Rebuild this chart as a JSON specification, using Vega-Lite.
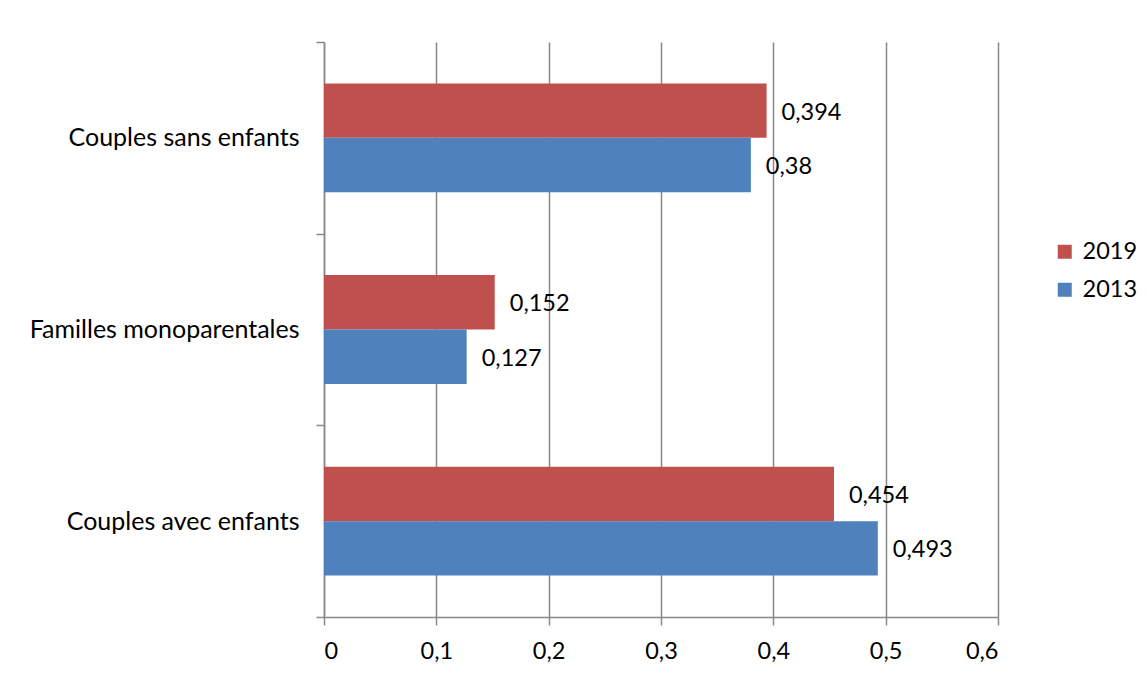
{
  "$schema": "https://vega.github.io/schema/vega-lite/v6.json",
  "width": 674,
  "height": 575,
  "autosize": {"type": "none"},
  "padding": {"left": 324, "top": 42, "right": 149, "bottom": 60},
  "background": "white",
  "config": {
    "locale": {"number": {"decimal": ",", "thousands": " ", "grouping": [3], "currency": ["", " €"]}},
    "view": {"stroke": null},
    "font": "Lato"
  },
  "data": {
    "values": [
      {"type": "Couples sans enfants", "year": "2019", "value": 0.394},
      {"type": "Couples sans enfants", "year": "2013", "value": 0.38},
      {"type": "Familles monoparentales", "year": "2019", "value": 0.152},
      {"type": "Familles monoparentales", "year": "2013", "value": 0.127},
      {"type": "Couples avec enfants", "year": "2019", "value": 0.454},
      {"type": "Couples avec enfants", "year": "2013", "value": 0.493}
    ]
  },
  "encoding": {
    "y": {
      "field": "type",
      "type": "nominal",
      "sort": ["Couples sans enfants", "Familles monoparentales", "Couples avec enfants"],
      "scale": {"paddingInner": 0, "paddingOuter": 0},
      "axis": {
        "title": null,
        "tickBand": "extent",
        "domainColor": "#888888",
        "domainWidth": 1.5,
        "tickColor": "#888888",
        "tickWidth": 1.5,
        "tickSize": 8,
        "labelPadding": 17,
        "labelLimit": 0,
        "labelFont": "Lato",
        "labelFontSize": 25,
        "labelColor": "#000000",
        "grid": false
      }
    },
    "yOffset": {
      "field": "year",
      "type": "nominal",
      "sort": ["2019", "2013"],
      "scale": {"paddingInner": 0, "paddingOuter": 0.761}
    },
    "x": {
      "field": "value",
      "type": "quantitative",
      "scale": {"domain": [0, 0.6], "nice": false},
      "axis": {
        "title": null,
        "values": [0, 0.1, 0.2, 0.3, 0.4, 0.5, 0.6],
        "format": ".1~f",
        "grid": true,
        "gridColor": "#888888",
        "gridWidth": 1.5,
        "domainColor": "#888888",
        "domainWidth": 1.5,
        "tickColor": "#888888",
        "tickWidth": 1.5,
        "tickSize": 8,
        "labelPadding": 14,
        "labelFont": "Lato",
        "labelFontSize": 23.5,
        "labelColor": "#000000"
      }
    }
  },
  "layer": [
    {
      "mark": {"type": "bar"},
      "encoding": {
        "color": {
          "field": "year",
          "type": "nominal",
          "scale": {"domain": ["2019", "2013"], "range": ["#C0504D", "#4F81BD"]},
          "legend": {
            "title": null,
            "orient": "none",
            "legendX": 729,
            "legendY": 198,
            "symbolType": "square",
            "symbolSize": 196,
            "symbolStrokeWidth": 0,
            "labelFont": "Lato",
            "labelFontSize": 23.5,
            "labelColor": "#000000",
            "labelOffset": 6,
            "rowPadding": 13
          }
        }
      }
    },
    {
      "mark": {"type": "text", "align": "left", "baseline": "middle", "dx": 15, "dy": 2, "font": "Lato", "fontSize": 23.5, "color": "#000000"},
      "encoding": {
        "text": {"field": "value", "type": "quantitative", "format": ".3~f"}
      }
    }
  ]
}
